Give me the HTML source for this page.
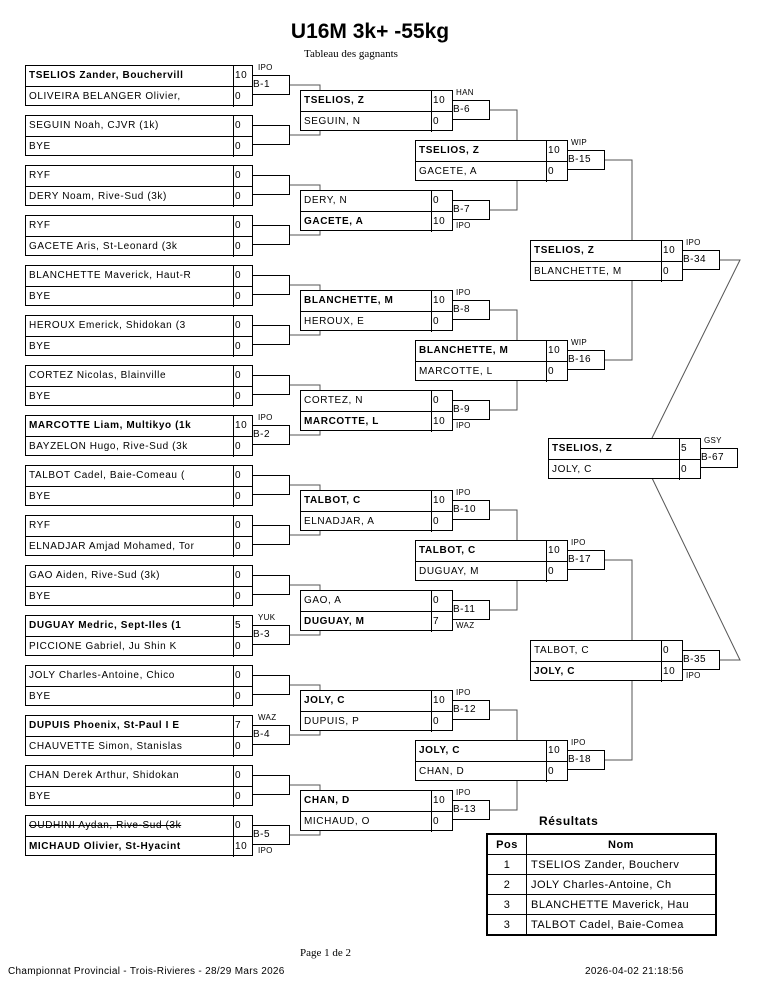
<!DOCTYPE html>
<html><head><meta charset="utf-8"><style>
body{margin:0;background:#fff;width:765px;height:990px;position:relative;overflow:hidden;font-family:"Liberation Sans",sans-serif;color:#000}
.m{position:absolute;border:1px solid #000;box-sizing:border-box;height:41px;font-size:10px;letter-spacing:.6px;background:#fff}
.r{position:relative;height:20px}
.r1{border-bottom:1px solid #000}
.n{position:absolute;left:0;top:0;bottom:0;right:18px;border-right:1px solid #000;padding-left:3px;line-height:19px;white-space:nowrap;overflow:hidden}
.w .n{right:20px}
.s{position:absolute;right:0;top:0;width:17px;padding-left:1px;line-height:19px}
.w .s{width:19px}
.b{font-weight:bold}
.l{position:absolute;border:1px solid #000;box-sizing:border-box;width:38px;height:20px;font-size:10px;line-height:18px;letter-spacing:.5px;background:#fff}
.t{position:absolute;font-size:8px;letter-spacing:.3px}
.x{position:absolute;white-space:nowrap}
table{border-collapse:collapse;font-size:11px;letter-spacing:.5px}
td{border:1px solid #000;height:19px;padding:0 4px}
</style></head><body>
<svg width="765" height="990" style="position:absolute;left:0;top:0">
<g stroke="#555" stroke-width="1" fill="none">
<path d="M290 85H320V135H290M290 185H320V235H290M290 285H320V335H290M290 385H320V435H290M290 485H320V535H290M290 585H320V635H290M290 685H320V735H290M290 785H320V835H290"/>
<path d="M490 110H517V210H490M490 310H517V410H490M490 510H517V610H490M490 710H517V810H490"/>
<path d="M605 160H632V360H605M605 560H632V760H605"/>
<path d="M720 260H740L652 438M720 660H740L652 478"/>
</g></svg>

<div class="x b" style="left:0;width:740px;text-align:center;top:20px;font-size:21px">U16M 3k+ -55kg</div>
<div class="x" style="left:0;width:702px;text-align:center;top:48px;font-size:11px;font-family:'Liberation Serif',serif">Tableau des gagnants</div>

<!-- Round 1 -->
<div class="m" style="left:25px;top:65px;width:228px"><div class="r r1"><span class="n b">TSELIOS Zander, Bouchervill</span><span class="s">10</span></div><div class="r"><span class="n">OLIVEIRA BELANGER Olivier,</span><span class="s">0</span></div></div>
<div class="m" style="left:25px;top:115px;width:228px"><div class="r r1"><span class="n">SEGUIN Noah, CJVR (1k)</span><span class="s">0</span></div><div class="r"><span class="n">BYE</span><span class="s">0</span></div></div>
<div class="m" style="left:25px;top:165px;width:228px"><div class="r r1"><span class="n">RYF</span><span class="s">0</span></div><div class="r"><span class="n">DERY Noam, Rive-Sud (3k)</span><span class="s">0</span></div></div>
<div class="m" style="left:25px;top:215px;width:228px"><div class="r r1"><span class="n">RYF</span><span class="s">0</span></div><div class="r"><span class="n">GACETE Aris, St-Leonard (3k</span><span class="s">0</span></div></div>
<div class="m" style="left:25px;top:265px;width:228px"><div class="r r1"><span class="n">BLANCHETTE Maverick, Haut-R</span><span class="s">0</span></div><div class="r"><span class="n">BYE</span><span class="s">0</span></div></div>
<div class="m" style="left:25px;top:315px;width:228px"><div class="r r1"><span class="n">HEROUX Emerick, Shidokan (3</span><span class="s">0</span></div><div class="r"><span class="n">BYE</span><span class="s">0</span></div></div>
<div class="m" style="left:25px;top:365px;width:228px"><div class="r r1"><span class="n">CORTEZ Nicolas, Blainville</span><span class="s">0</span></div><div class="r"><span class="n">BYE</span><span class="s">0</span></div></div>
<div class="m" style="left:25px;top:415px;width:228px"><div class="r r1"><span class="n b">MARCOTTE Liam, Multikyo (1k</span><span class="s">10</span></div><div class="r"><span class="n">BAYZELON Hugo, Rive-Sud (3k</span><span class="s">0</span></div></div>
<div class="m" style="left:25px;top:465px;width:228px"><div class="r r1"><span class="n">TALBOT Cadel, Baie-Comeau (</span><span class="s">0</span></div><div class="r"><span class="n">BYE</span><span class="s">0</span></div></div>
<div class="m" style="left:25px;top:515px;width:228px"><div class="r r1"><span class="n">RYF</span><span class="s">0</span></div><div class="r"><span class="n">ELNADJAR Amjad Mohamed, Tor</span><span class="s">0</span></div></div>
<div class="m" style="left:25px;top:565px;width:228px"><div class="r r1"><span class="n">GAO Aiden, Rive-Sud (3k)</span><span class="s">0</span></div><div class="r"><span class="n">BYE</span><span class="s">0</span></div></div>
<div class="m" style="left:25px;top:615px;width:228px"><div class="r r1"><span class="n b">DUGUAY Medric, Sept-Iles (1</span><span class="s">5</span></div><div class="r"><span class="n">PICCIONE Gabriel, Ju Shin K</span><span class="s">0</span></div></div>
<div class="m" style="left:25px;top:665px;width:228px"><div class="r r1"><span class="n">JOLY Charles-Antoine, Chico</span><span class="s">0</span></div><div class="r"><span class="n">BYE</span><span class="s">0</span></div></div>
<div class="m" style="left:25px;top:715px;width:228px"><div class="r r1"><span class="n b">DUPUIS Phoenix, St-Paul I E</span><span class="s">7</span></div><div class="r"><span class="n">CHAUVETTE Simon, Stanislas</span><span class="s">0</span></div></div>
<div class="m" style="left:25px;top:765px;width:228px"><div class="r r1"><span class="n">CHAN Derek Arthur, Shidokan</span><span class="s">0</span></div><div class="r"><span class="n">BYE</span><span class="s">0</span></div></div>
<div class="m" style="left:25px;top:815px;width:228px"><div class="r r1"><span class="n"><s>OUDHINI Aydan, Rive-Sud (3k</s></span><span class="s">0</span></div><div class="r"><span class="n b">MICHAUD Olivier, St-Hyacint</span><span class="s">10</span></div></div>

<div class="l" style="left:252px;top:75px">B-1</div><span class="t" style="left:258px;top:63px">IPO</span>
<div class="l" style="left:252px;top:125px"></div>
<div class="l" style="left:252px;top:175px"></div>
<div class="l" style="left:252px;top:225px"></div>
<div class="l" style="left:252px;top:275px"></div>
<div class="l" style="left:252px;top:325px"></div>
<div class="l" style="left:252px;top:375px"></div>
<div class="l" style="left:252px;top:425px">B-2</div><span class="t" style="left:258px;top:413px">IPO</span>
<div class="l" style="left:252px;top:475px"></div>
<div class="l" style="left:252px;top:525px"></div>
<div class="l" style="left:252px;top:575px"></div>
<div class="l" style="left:252px;top:625px">B-3</div><span class="t" style="left:258px;top:613px">YUK</span>
<div class="l" style="left:252px;top:675px"></div>
<div class="l" style="left:252px;top:725px">B-4</div><span class="t" style="left:258px;top:713px">WAZ</span>
<div class="l" style="left:252px;top:775px"></div>
<div class="l" style="left:252px;top:825px">B-5</div><span class="t" style="left:258px;top:846px">IPO</span>

<!-- Round 2 -->
<div class="m w" style="left:300px;top:90px;width:153px"><div class="r r1"><span class="n b">TSELIOS, Z</span><span class="s">10</span></div><div class="r"><span class="n">SEGUIN, N</span><span class="s">0</span></div></div>
<div class="m w" style="left:300px;top:190px;width:153px"><div class="r r1"><span class="n">DERY, N</span><span class="s">0</span></div><div class="r"><span class="n b">GACETE, A</span><span class="s">10</span></div></div>
<div class="m w" style="left:300px;top:290px;width:153px"><div class="r r1"><span class="n b">BLANCHETTE, M</span><span class="s">10</span></div><div class="r"><span class="n">HEROUX, E</span><span class="s">0</span></div></div>
<div class="m w" style="left:300px;top:390px;width:153px"><div class="r r1"><span class="n">CORTEZ, N</span><span class="s">0</span></div><div class="r"><span class="n b">MARCOTTE, L</span><span class="s">10</span></div></div>
<div class="m w" style="left:300px;top:490px;width:153px"><div class="r r1"><span class="n b">TALBOT, C</span><span class="s">10</span></div><div class="r"><span class="n">ELNADJAR, A</span><span class="s">0</span></div></div>
<div class="m w" style="left:300px;top:590px;width:153px"><div class="r r1"><span class="n">GAO, A</span><span class="s">0</span></div><div class="r"><span class="n b">DUGUAY, M</span><span class="s">7</span></div></div>
<div class="m w" style="left:300px;top:690px;width:153px"><div class="r r1"><span class="n b">JOLY, C</span><span class="s">10</span></div><div class="r"><span class="n">DUPUIS, P</span><span class="s">0</span></div></div>
<div class="m w" style="left:300px;top:790px;width:153px"><div class="r r1"><span class="n b">CHAN, D</span><span class="s">10</span></div><div class="r"><span class="n">MICHAUD, O</span><span class="s">0</span></div></div>

<div class="l" style="left:452px;top:100px">B-6</div><span class="t" style="left:456px;top:88px">HAN</span>
<div class="l" style="left:452px;top:200px">B-7</div><span class="t" style="left:456px;top:221px">IPO</span>
<div class="l" style="left:452px;top:300px">B-8</div><span class="t" style="left:456px;top:288px">IPO</span>
<div class="l" style="left:452px;top:400px">B-9</div><span class="t" style="left:456px;top:421px">IPO</span>
<div class="l" style="left:452px;top:500px">B-10</div><span class="t" style="left:456px;top:488px">IPO</span>
<div class="l" style="left:452px;top:600px">B-11</div><span class="t" style="left:456px;top:621px">WAZ</span>
<div class="l" style="left:452px;top:700px">B-12</div><span class="t" style="left:456px;top:688px">IPO</span>
<div class="l" style="left:452px;top:800px">B-13</div><span class="t" style="left:456px;top:788px">IPO</span>

<!-- Round 3 -->
<div class="m w" style="left:415px;top:140px;width:153px"><div class="r r1"><span class="n b">TSELIOS, Z</span><span class="s">10</span></div><div class="r"><span class="n">GACETE, A</span><span class="s">0</span></div></div>
<div class="m w" style="left:415px;top:340px;width:153px"><div class="r r1"><span class="n b">BLANCHETTE, M</span><span class="s">10</span></div><div class="r"><span class="n">MARCOTTE, L</span><span class="s">0</span></div></div>
<div class="m w" style="left:415px;top:540px;width:153px"><div class="r r1"><span class="n b">TALBOT, C</span><span class="s">10</span></div><div class="r"><span class="n">DUGUAY, M</span><span class="s">0</span></div></div>
<div class="m w" style="left:415px;top:740px;width:153px"><div class="r r1"><span class="n b">JOLY, C</span><span class="s">10</span></div><div class="r"><span class="n">CHAN, D</span><span class="s">0</span></div></div>

<div class="l" style="left:567px;top:150px">B-15</div><span class="t" style="left:571px;top:138px">WIP</span>
<div class="l" style="left:567px;top:350px">B-16</div><span class="t" style="left:571px;top:338px">WIP</span>
<div class="l" style="left:567px;top:550px">B-17</div><span class="t" style="left:571px;top:538px">IPO</span>
<div class="l" style="left:567px;top:750px">B-18</div><span class="t" style="left:571px;top:738px">IPO</span>

<!-- Round 4 -->
<div class="m w" style="left:530px;top:240px;width:153px"><div class="r r1"><span class="n b">TSELIOS, Z</span><span class="s">10</span></div><div class="r"><span class="n">BLANCHETTE, M</span><span class="s">0</span></div></div>
<div class="m w" style="left:530px;top:640px;width:153px"><div class="r r1"><span class="n">TALBOT, C</span><span class="s">0</span></div><div class="r"><span class="n b">JOLY, C</span><span class="s">10</span></div></div>
<div class="l" style="left:682px;top:250px">B-34</div><span class="t" style="left:686px;top:238px">IPO</span>
<div class="l" style="left:682px;top:650px">B-35</div><span class="t" style="left:686px;top:671px">IPO</span>

<!-- Final -->
<div class="m w" style="left:548px;top:438px;width:153px"><div class="r r1"><span class="n b">TSELIOS, Z</span><span class="s">5</span></div><div class="r"><span class="n">JOLY, C</span><span class="s">0</span></div></div>
<div class="l" style="left:700px;top:448px">B-67</div><span class="t" style="left:704px;top:436px">GSY</span>

<!-- Results -->
<div class="x b" style="left:539px;top:814px;font-size:12px;letter-spacing:.6px">Résultats</div>
<table style="position:absolute;left:486px;top:833px;width:231px;border:2px solid #000">
<tr><td class="b" style="width:30px;text-align:center">Pos</td><td class="b" style="text-align:center">Nom</td></tr>
<tr><td style="text-align:center">1</td><td>TSELIOS Zander, Boucherv</td></tr>
<tr><td style="text-align:center">2</td><td>JOLY Charles-Antoine, Ch</td></tr>
<tr><td style="text-align:center">3</td><td>BLANCHETTE Maverick, Hau</td></tr>
<tr><td style="text-align:center">3</td><td>TALBOT Cadel, Baie-Comea</td></tr>
</table>

<div class="x" style="left:300px;top:947px;font-size:11px;font-family:'Liberation Serif',serif">Page 1 de 2</div>
<div class="x" style="left:8px;top:966px;font-size:10px;letter-spacing:.3px">Championnat Provincial - Trois-Rivieres - 28/29 Mars 2026</div>
<div class="x" style="left:585px;top:966px;font-size:10px;letter-spacing:.3px">2026-04-02 21:18:56</div>
</body></html>
